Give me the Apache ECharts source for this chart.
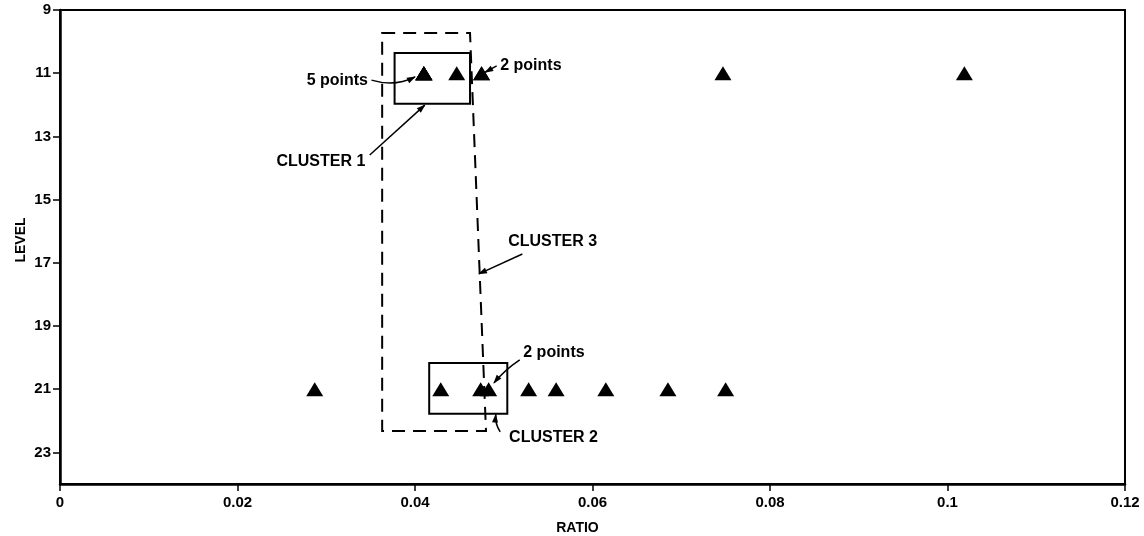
<!DOCTYPE html>
<html><head><meta charset="utf-8">
<script src="https://cdn.jsdelivr.net/npm/echarts@6/dist/echarts.min.js"></script>
<style>html,body{margin:0;padding:0;background:#fff}#c{width:1144px;height:536px}</style>
</head><body><div id="c"></div>
<script>
// ---- data (ratio values per level) ----
const xTicks = [0, 0.02, 0.04, 0.06, 0.08, 0.1, 0.12];
const yTicks = [9, 11, 13, 15, 17, 19, 21, 23];
const level11Ratios = [0.0410, 0.0410, 0.0410, 0.0410, 0.0410, 0.0447, 0.0475, 0.0475, 0.0747, 0.1019];
const level21Ratios = [0.0287, 0.0429, 0.0474, 0.0483, 0.0528, 0.0559, 0.0615, 0.0685, 0.0750];
// cluster outlines in data units [ratio, level]
const cluster1 = [[0.0377, 10.36], [0.0462, 10.36], [0.0462, 11.97], [0.0377, 11.97]];
const cluster2 = [[0.0416, 20.17], [0.0504, 20.17], [0.0504, 21.78], [0.0416, 21.78]];
const cluster3 = [[0.0363, 9.73], [0.0462, 9.73], [0.0480, 22.32], [0.0363, 22.32]];
// annotation labels: text, anchor [ratio, level], align
const labelTexts = ['5 points', '2 points', 'CLUSTER 1', 'CLUSTER 3', '2 points', 'CLUSTER 2'];
const labelAnchors = [[0.0347, 11.22], [0.0496, 10.77], [0.0344, 13.81], [0.0505, 16.34], [0.0522, 19.85], [0.0506, 22.54]];
const labelAligns = ['right', 'left', 'right', 'left', 'left', 'left'];
// arrows: start, (control), end in data units
const arrowPaths = [
  [[0.0351, 11.22], [0.0377, 11.44], [0.0400, 11.12]],
  [[0.0492, 10.77], [0.0479, 10.97]],
  [[0.0349, 13.59], [0.0411, 12.01]],
  [[0.0521, 16.72], [0.0472, 17.35]],
  [[0.0518, 20.07], [0.0501, 20.39], [0.0489, 20.80]],
  [[0.0496, 22.35], [0.0490, 22.10], [0.0491, 21.80]]
];

const chart = echarts.init(document.getElementById('c'));
const font = '"Liberation Sans", Arial, Helvetica, sans-serif';
const lbl = {color: '#000', fontWeight: 'bold', fontSize: 15, fontFamily: font};

chart.setOption({
  animation: false,
  backgroundColor: '#fff',
  grid: {left: 60, right: 19, top: 10, bottom: 52, show: true, borderColor: '#000', borderWidth: 2,
         containLabel: false, outerBoundsMode: 'none'},
  xAxis: {
    type: 'value', min: 0, max: 0.12,
    name: 'RATIO', nameLocation: 'middle', nameGap: 37,
    nameTextStyle: Object.assign({}, lbl, {fontSize: 14, padding: [0, 30, 0, 0]}),
    axisLine: {show: true, onZero: false, lineStyle: {color: '#000', width: 2.5}},
    axisTick: {show: true, length: 7, customValues: xTicks, lineStyle: {color: '#000', width: 1.5}},
    axisLabel: Object.assign({customValues: xTicks, margin: 11, formatter: v => String(v)}, lbl),
    splitLine: {show: false}
  },
  yAxis: {
    type: 'value', min: 9, max: 24, inverse: true,
    name: 'LEVEL', nameLocation: 'middle', nameGap: 32, nameRotate: 90, nameMoveOverlap: false,
    nameTextStyle: Object.assign({}, lbl, {fontSize: 14, padding: [0, 0, 0, 14]}),
    axisLine: {show: true, onZero: false, lineStyle: {color: '#000', width: 2.5}},
    axisTick: {show: true, length: 7, customValues: yTicks, lineStyle: {color: '#000', width: 1.5}},
    axisLabel: Object.assign({customValues: yTicks, margin: 9}, lbl),
    splitLine: {show: false}
  },
  series: [{
    type: 'scatter', symbol: 'triangle', symbolSize: [17, 14],
    itemStyle: {color: '#000', opacity: 1},
    data: level11Ratios.map(r => [r, 11]).concat(level21Ratios.map(r => [r, 21]))
  }]
});

function px(p) { return chart.convertToPixel({gridIndex: 0}, p); }
const els = [];
function poly(pts, dash) {
  els.push({type: 'polygon', shape: {points: pts.map(px)}, style: {fill: 'none', stroke: '#000', lineWidth: 2, lineDash: dash || null}});
}
poly(cluster1);
poly(cluster2);
poly(cluster3, [13, 8]);

labelTexts.forEach((t, i) => {
  const p = px(labelAnchors[i]);
  els.push({type: 'text', x: p[0], y: p[1], style: {text: t, fill: '#000', font: 'bold 16px ' + font, align: labelAligns[i], verticalAlign: 'middle'}});
});

arrowPaths.forEach(a => {
  const P = a.map(px);
  const end = P[P.length - 1];
  const prev = P[P.length - 2];
  if (P.length === 3) {
    els.push({type: 'bezierCurve', shape: {x1: P[0][0], y1: P[0][1], cpx1: P[1][0], cpy1: P[1][1], x2: end[0], y2: end[1]}, style: {stroke: '#000', lineWidth: 1.5, fill: 'none'}});
  } else {
    els.push({type: 'line', shape: {x1: P[0][0], y1: P[0][1], x2: end[0], y2: end[1]}, style: {stroke: '#000', lineWidth: 1.5}});
  }
  let dx = end[0] - prev[0], dy = end[1] - prev[1];
  const L = Math.hypot(dx, dy) || 1; dx /= L; dy /= L;
  const hl = 8, hw = 3;
  const bx = end[0] - dx * hl, by = end[1] - dy * hl;
  els.push({type: 'polygon', shape: {points: [[end[0] + dx, end[1] + dy], [bx - dy * hw, by + dx * hw], [bx + dy * hw, by - dx * hw]]}, style: {fill: '#000'}});
});

chart.setOption({graphic: els});
</script>
</body></html>
